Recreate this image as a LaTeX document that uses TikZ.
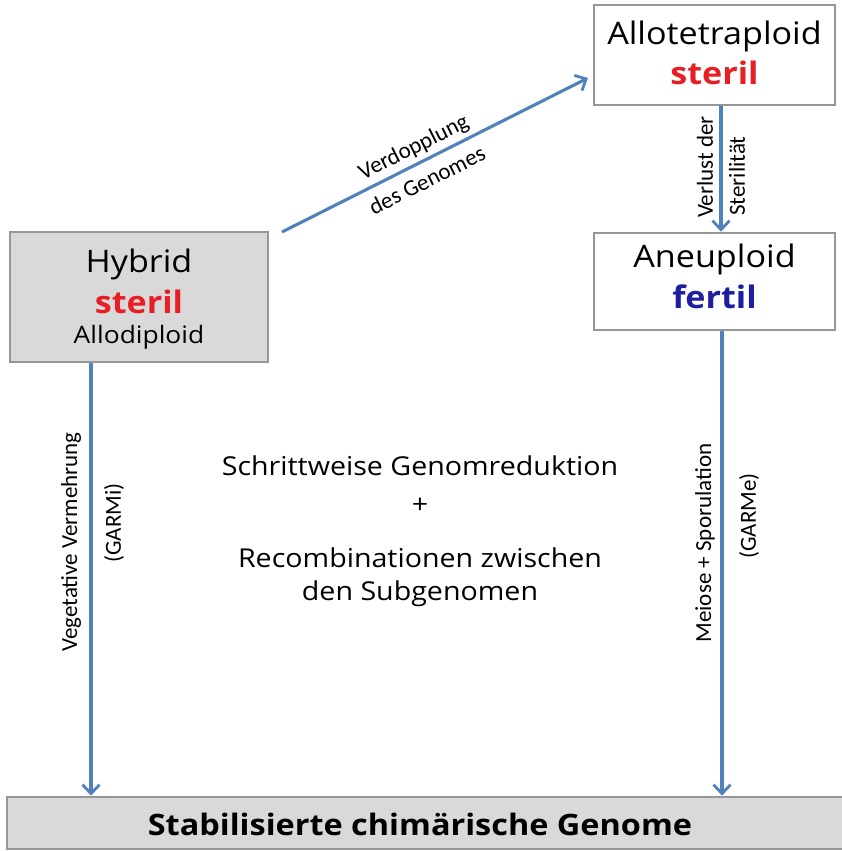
\documentclass[tikz,border=0pt]{standalone}
\usepackage{fontspec}
\setmainfont[FakeStretch=1.1]{Open Sans}
\newfontfamily\lblfont{Carlito}
\usetikzlibrary{arrows.meta}
\definecolor{arrblue}{RGB}{79,129,189}
\definecolor{boxgray}{RGB}{217,217,217}
\definecolor{boxedge}{RGB}{150,150,150}
\definecolor{sred}{RGB}{232,30,37}
\definecolor{fblue}{RGB}{30,30,160}
\tikzset{
  box/.style={draw=boxedge, line width=2.6pt, minimum width=#1, inner sep=0pt},
  conn/.style={draw=arrblue, line width=3.1pt, -{Straight Barb[length=9pt,width=17pt,line width=2.8pt]}},
  lbl/.style={font=\lblfont\fontsize{23}{25}\selectfont, inner sep=0pt},
  boxtxt/.style={font=\fontsize{31}{34}\selectfont, inner sep=0pt},
  boxbold/.style={font=\bfseries\fontsize{31}{34}\selectfont, inner sep=0pt},
  big/.style={font=\fontsize{26}{30}\selectfont, inner sep=0pt},
}
\begin{document}
\begin{tikzpicture}[x=1pt,y=-1pt]
\useasboundingbox (0,0) rectangle (842,851);
\fill[white] (0,0) rectangle (842,851);
% boxes
\node[box=258pt, minimum height=130pt, fill=boxgray] (hyb) at (139,297) {};
\node[boxtxt] (hybt) at (139,264) {Hybrid};
\node[boxbold, text=sred] (hybs) at (139,302) {steril};
\node[font=\fontsize{24}{28}\selectfont, inner sep=0pt] (hyba) at (139,337) {Allodiploid};

\node[box=241pt, minimum height=100pt, fill=white] (allo) at (714.5,55) {};
\node[boxtxt] (allot) at (714.5,36) {Allotetraploid};
\node[boxbold, text=sred] (allos) at (714.5,73) {steril};

\node[box=241pt, minimum height=97pt, fill=white] (aneu) at (714.5,281.5) {};
\node[boxtxt] (aneut) at (714.5,259) {Aneuploid};
\node[boxbold, text=fblue] (aneuf) at (714.5,297) {fertil};

\node[box=850pt, minimum height=52pt, fill=boxgray] (stab) at (432,823) {};
\node[font=\bfseries\fontsize{29.5}{32}\selectfont, inner sep=0pt] (stabt) at (420,824) {Stabilisierte chimärische Genome};

% center text
\node[big] (c1) at (420,466) {Schrittweise Genomreduktion};
\node[big] (c2) at (420,506) {+};
\node[big] (c3) at (420,558) {Recombinationen zwischen};
\node[big] (c4) at (420,594) {den Subgenomen};

% connectors
\coordinate (d0) at (282,232);
\coordinate (d1) at (588,78);
\draw[conn] (d0) -- (d1);
\node[lbl, rotate=26.6] (dl1) at (414,148) {Verdopplung};
\node[lbl, rotate=26.6] (dl2) at (427,180) {des Genomes};

\draw[conn] (allo.south -| 721,0) -- (aneu.north -| 721,0);
\node[lbl, rotate=90] (v1) at (705,167) {Verlust der};
\node[lbl, rotate=90] (v2) at (737,176) {Sterilität};

\draw[conn] (hyb.south -| 91,0) -- (stab.north -| 91,0);
\node[lbl, rotate=90] (g1) at (71,542) {Vegetative Vermehrung};
\node[lbl, rotate=90] (g2) at (114,523) {(GARMi)};

\draw[conn] (aneu.south -| 722,0) -- (stab.north -| 722,0);
\node[lbl, rotate=90] (m1) at (705,543) {Meiose + Sporulation};
\node[lbl, rotate=90] (m2) at (749,516) {(GARMe)};
\end{tikzpicture}
\end{document}
